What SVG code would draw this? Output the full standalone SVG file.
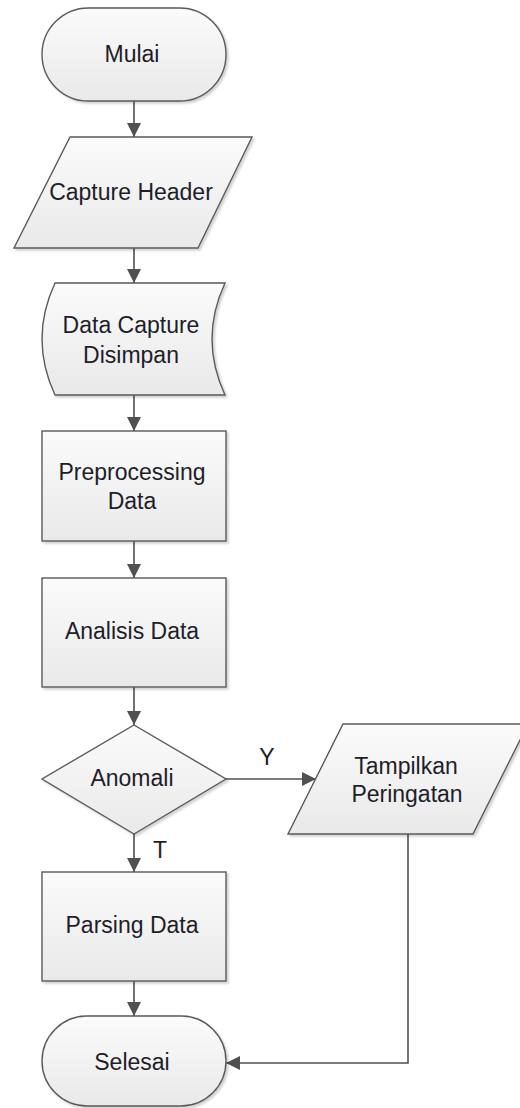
<svg xmlns="http://www.w3.org/2000/svg" width="520" height="1108" viewBox="0 0 520 1108">
  <defs>
    <linearGradient id="fill" x1="0" y1="0" x2="0" y2="1">
      <stop offset="0" stop-color="#fbfbfb"/>
      <stop offset="1" stop-color="#e9e9e9"/>
    </linearGradient>
    <filter id="shadow" x="-10%" y="-10%" width="130%" height="130%">
      <feDropShadow dx="2" dy="2" stdDeviation="1.2" flood-color="#000" flood-opacity="0.18"/>
    </filter>
    <marker id="arrow" viewBox="0 0 14 14" refX="14" refY="7" markerWidth="14" markerHeight="14" markerUnits="userSpaceOnUse" orient="auto">
      <path d="M0,0 L14,7 L0,14 Z" fill="#505050"/>
    </marker>
  </defs>
  <style>
    .shape { fill: url(#fill); stroke: #5a5a5a; stroke-width: 1.4; filter: url(#shadow); }
    .label { font-family: "Liberation Sans", Arial, sans-serif; font-size: 23px; fill: #1e1e2a; text-anchor: middle; }
    .edge { fill: none; stroke: #505050; stroke-width: 1.6; marker-end: url(#arrow); }
  </style>
  <rect width="520" height="1108" fill="#ffffff"/>

  <!-- connectors -->
  <g id="connectors">
    <line class="edge" x1="134" y1="101" x2="134" y2="137"/>
    <line class="edge" x1="134" y1="248" x2="134" y2="283"/>
    <line class="edge" x1="134" y1="395" x2="134" y2="431"/>
    <line class="edge" x1="134" y1="541" x2="134" y2="578"/>
    <line class="edge" x1="134" y1="687" x2="134" y2="725"/>
    <line class="edge" x1="225" y1="779" x2="316" y2="779"/>
    <line class="edge" x1="134" y1="834" x2="134" y2="872"/>
    <line class="edge" x1="134" y1="981" x2="134" y2="1016"/>
    <polyline class="edge" points="408,834 408,1063 226,1063"/>
    <text class="label" x="267" y="765" font-size="22">Y</text>
    <text class="label" x="160" y="858" font-size="22">T</text>
  </g>

  <g id="mulai">
    <rect class="shape" x="42" y="8" width="184" height="93" rx="46.5" ry="46.5"/>
    <text class="label" x="132" y="62">Mulai</text>
  </g>

  <g id="capture-header">
    <polygon class="shape" points="70,137 252,137 198,248 14,248"/>
    <text class="label" x="131" y="200">Capture Header</text>
  </g>

  <g id="data-capture">
    <path class="shape" d="M55,283 L225,283 Q199,339 225,395 L55,395 Q29,339 55,283 Z"/>
    <text class="label" x="131" y="333">Data Capture</text>
    <text class="label" x="131" y="363">Disimpan</text>
  </g>

  <g id="preprocessing">
    <rect class="shape" x="42" y="431" width="184" height="110"/>
    <text class="label" x="132" y="480">Preprocessing</text>
    <text class="label" x="132" y="509">Data</text>
  </g>

  <g id="analisis">
    <rect class="shape" x="42" y="578" width="184" height="109"/>
    <text class="label" x="132" y="639">Analisis Data</text>
  </g>

  <g id="anomali">
    <polygon class="shape" points="134,725 226,779 134,834 42,779"/>
    <text class="label" x="132" y="786">Anomali</text>
  </g>

  <g id="tampilkan">
    <polygon class="shape" points="343,724 528,724 473,834 288,834"/>
    <text class="label" x="406" y="774">Tampilkan</text>
    <text class="label" x="407" y="802">Peringatan</text>
  </g>

  <g id="parsing">
    <rect class="shape" x="42" y="872" width="184" height="109"/>
    <text class="label" x="132" y="933">Parsing Data</text>
  </g>

  <g id="selesai">
    <rect class="shape" x="42" y="1016" width="184" height="90" rx="45" ry="45"/>
    <text class="label" x="132" y="1070">Selesai</text>
  </g>
</svg>
